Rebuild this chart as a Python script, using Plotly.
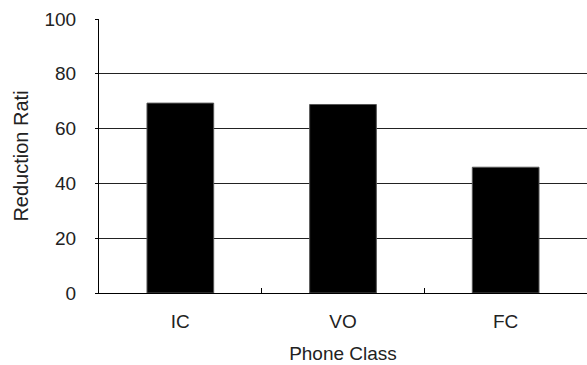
import plotly.graph_objects as go

categories = ["IC", "VO", "FC"]
values = [69.3, 68.8, 45.9]
y_ticks = [0, 20, 40, 60, 80, 100]

font = "Liberation Sans, Arial, sans-serif"

fig = go.Figure(go.Bar(
    x=categories, y=values, width=0.41,
    marker=dict(color="black", line=dict(color="#555555", width=1)),
))

fig.update_layout(
    width=587, height=365,
    margin=dict(l=99, r=0, t=19, b=72, autoexpand=False),
    paper_bgcolor="white", plot_bgcolor="white",
    showlegend=False,
    font=dict(family=font, size=19, color="#222222"),
)
fig.update_xaxes(
    type="category", range=[-0.5, 2.5], automargin=False,
    showline=True, linecolor="black", linewidth=1,
    ticks="inside", ticklen=5, tickcolor="black", tickson="boundaries",
    showgrid=False,
    title=dict(text="Phone Class", font=dict(size=19), standoff=15),
    ticklabelstandoff=11,
)
fig.update_yaxes(
    range=[0, 100], tickvals=y_ticks, automargin=False,
    showline=True, linecolor="black", linewidth=1,
    showgrid=True, gridcolor="#222222", gridwidth=1,
    ticks="outside", ticklen=3, tickcolor="black",
    zeroline=False,
    title=dict(text="Reduction Rati", font=dict(size=20), standoff=10),
    ticklabelstandoff=15,
)

fig.write_html("out.html", config={"displayModeBar": False},
               post_script="document.body.style.margin='0';")
